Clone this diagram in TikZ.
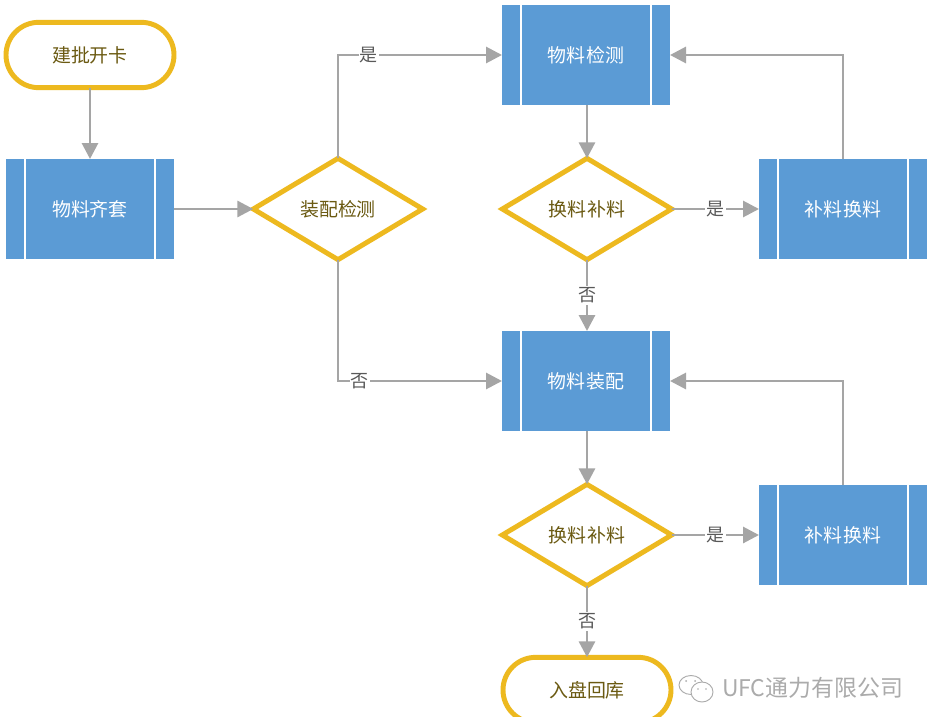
\documentclass[tikz,border=0pt]{standalone}
\usepackage{fontspec}
\setmainfont{Noto Sans CJK SC}
\usetikzlibrary{arrows.meta,shapes.geometric,shapes.misc,calc}
\definecolor{boxblue}{HTML}{5B9BD5}
\definecolor{ringgold}{HTML}{EDB91F}
\definecolor{flowgray}{HTML}{A5A5A5}
\definecolor{olivetext}{HTML}{6B5A12}
\definecolor{labeltext}{HTML}{595959}
\definecolor{marktext}{HTML}{ABABAB}
\tikzset{
  x=0.75pt, y=-0.75pt,
  every node/.style={inner sep=0pt, outer sep=0pt},
  procbox/.style={rectangle, fill=boxblue, text=white, font=\fontsize{14.2pt}{16pt}\selectfont,
    minimum width=126pt, minimum height=75pt,
    path picture={
      \draw[white, line width=1.9pt]
        ($(path picture bounding box.north west)+(14.2pt,0)$) -- ($(path picture bounding box.south west)+(14.2pt,0)$)
        ($(path picture bounding box.north east)+(-14.2pt,0)$) -- ($(path picture bounding box.south east)+(-14.2pt,0)$);
    }},
  decision/.style={diamond, draw=ringgold, line width=3.7pt, fill=white, text=olivetext,
    font=\fontsize{14.2pt}{16pt}\selectfont, minimum width=127pt, minimum height=76pt, aspect=1.67},
  terminal/.style={rounded rectangle, draw=ringgold, line width=3.7pt, fill=white, text=olivetext,
    font=\fontsize{14.2pt}{16pt}\selectfont, minimum width=126pt, minimum height=49pt},
  flow/.style={draw=flowgray, line width=2.2pt, -{Triangle[length=12pt, width=12pt, fill=flowgray]}},
  answer/.style={fill=white, text=labeltext, font=\fontsize{13.5pt}{15pt}\selectfont, inner xsep=1pt, inner ysep=1.5pt},
  wechat/.style={draw=marktext, line width=0.7pt, fill=white}
}
\begin{document}
\begin{tikzpicture}
  \clip (0,0) rectangle (928,717);
  \fill[white] (0,0) rectangle (928,717);

  % Start and end of the flow
  \node[terminal] (start) at (90,55) {建批开卡};
  \node[terminal] (finish) at (587,690) {入盘回库};

  % Process blocks
  \node[procbox] (kit) at (90,209) {物料齐套};
  \node[procbox] (inspect) at (586,55) {物料\kern1.5pt 检测};
  \node[procbox] (assemble) at (586,381) {物料\kern1.5pt 装配};
  \node[procbox] (refillA) at (843,209) {补料\kern1.5pt 换料};
  \node[procbox] (refillB) at (843,535) {补料\kern1.5pt 换料};

  % Decisions
  \node[decision] (check) at (338,209) {装配检测};
  \node[decision] (swapA) at (587,209) {换料\kern1.5pt 补料};
  \node[decision] (swapB) at (587,535) {换料\kern1.5pt 补料};

  % Connectors
  \draw[flow] (start) -- (kit);
  \draw[flow] (kit) -- (check);
  \draw[flow] (check.north) |- (inspect.west) node[answer, pos=0.594] {是};
  \draw[flow] (check.south) |- (assemble.west) node[answer, pos=0.567] {否};
  \draw[flow] (inspect.south -| swapA) -- (swapA.north);
  \draw[flow] (swapA.east) -- (refillA.west) node[answer, midway] {是};
  \draw[flow] (refillA.north) |- (inspect.east);
  \draw[flow] (swapA.south) -- (swapA.south |- assemble.north) node[answer, midway] {否};
  \draw[flow] (assemble.south -| swapB) -- (swapB.north);
  \draw[flow] (swapB.east) -- (refillB.west) node[answer, midway] {是};
  \draw[flow] (refillB.north) |- (assemble.east);
  \draw[flow] (swapB.south) -- (finish.north) node[answer, midway] {否};

  % Account mark in the lower corner
  \draw[wechat] (691,685) ellipse (12 and 9.5);
  \draw[wechat] (702,692) ellipse (11 and 10);
  \fill[marktext] (686,681) circle (1) (695,681) circle (1) (698,689) circle (0.9) (706,689) circle (0.9);
  \node[text=marktext, font=\fontsize{17.2pt}{19pt}\selectfont, anchor=west] (mark) at (722,688) {UFC通力有限公司};
\end{tikzpicture}
\end{document}
